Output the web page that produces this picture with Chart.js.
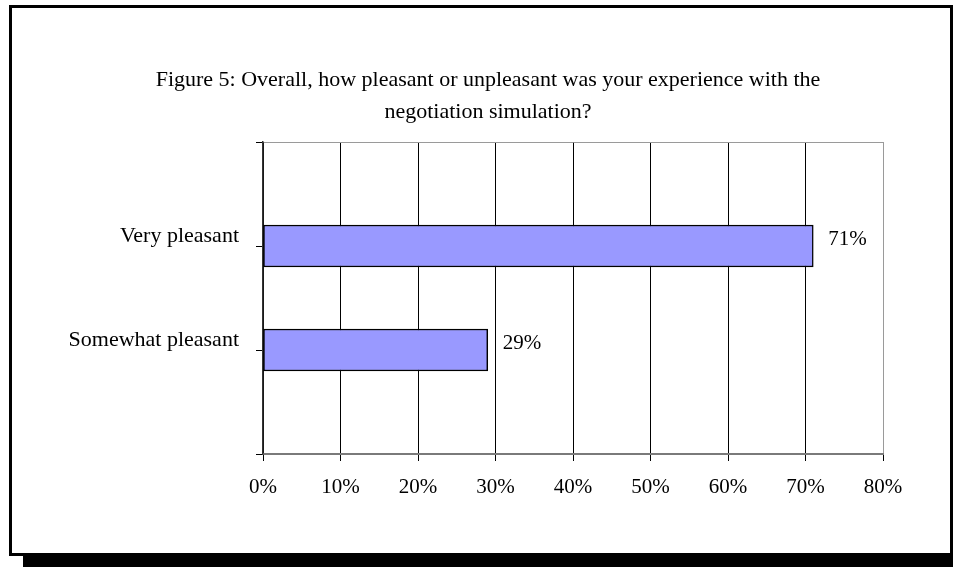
<!DOCTYPE html>
<html>
<head>
<meta charset="utf-8">
<script src="https://cdn.jsdelivr.net/npm/chart.js@4"></script>
<style>
  body { margin: 0; background: #fff; }
  #wrap { position: relative; width: 953px; height: 567px; overflow: hidden; }
  .frame { position: absolute; left: 9px; top: 5px; width: 944px; height: 551px; box-sizing: border-box; border: 3px solid #000; }
  .shadow { position: absolute; left: 23px; top: 553px; width: 930px; height: 14px; background: #000; }
  canvas { position: absolute; left: 0; top: 0; }
</style>
</head>
<body>
<div id="wrap">
  <div class="frame"></div>
  <div class="shadow"></div>
  <canvas id="chart" width="953" height="567"></canvas>
</div>
<script>
const titleLines = ['Figure 5: Overall, how pleasant or unpleasant was your experience with the', 'negotiation simulation?'];
const categories = ['Very pleasant', 'Somewhat pleasant'];
const shares = [71, 29];
const xTicks = [0, 10, 20, 30, 40, 50, 60, 70, 80];

const serif = 'Liberation Serif, Times New Roman, serif';

// blank slots above and below so the two categories sit on the inner ticks
const labels = [''].concat(categories, ['']);
const values = [null].concat(shares, [null]);

// two-line heading, centred a little right of the canvas middle
const heading = {
  id: 'heading',
  afterDraw(chart) {
    const c = chart.ctx;
    c.save();
    c.font = '22px ' + serif;
    c.fillStyle = '#000';
    c.textAlign = 'center';
    c.textBaseline = 'middle';
    titleLines.forEach((t, i) => c.fillText(t, 488, 80 + i * 32));
    c.restore();
  }
};

// percent labels to the right of each bar
const barLabels = {
  id: 'barLabels',
  afterDatasetsDraw(chart) {
    const c = chart.ctx;
    const meta = chart.getDatasetMeta(0);
    c.save();
    c.font = '21px ' + serif;
    c.fillStyle = '#000';
    c.textAlign = 'left';
    c.textBaseline = 'middle';
    meta.data.forEach((bar, i) => {
      if (values[i] == null) return;
      c.fillText(values[i] + '%', bar.x + 15, bar.y - 7);
    });
    c.restore();
  }
};

new Chart(document.getElementById('chart'), {
  type: 'bar',
  data: {
    labels: labels,
    datasets: [{
      data: values,
      backgroundColor: '#9999FF',
      borderColor: '#000',
      borderWidth: 1.5,
      borderSkipped: false,
      barThickness: 42
    }]
  },
  plugins: [barLabels, heading],
  options: {
    indexAxis: 'y',
    responsive: false,
    animation: false,
    layout: { padding: { left: 30, right: 70, top: 142, bottom: 0 } },
    plugins: {
      legend: { display: false },
      tooltip: { enabled: false },
      title: { display: false }
    },
    scales: {
      x: {
        min: 0,
        max: 80,
        afterFit: s => { s.height = 113; },
        afterBuildTicks: s => { s.ticks = xTicks.map(v => ({ value: v })); },
        ticks: {
          color: '#000',
          padding: 14,
          maxRotation: 0,
          font: { family: serif, size: 21 },
          callback: v => v + '%'
        },
        grid: {
          color: ctx => (ctx.tick && ctx.tick.value === 80) ? '#9a9a9a' : '#000',
          lineWidth: 1,
          tickLength: 7,
          tickColor: '#000'
        },
        border: { color: '#7a7a7a', width: 2 }
      },
      y: {
        offset: false,
        afterFit: s => { s.width = 233; },
        ticks: {
          color: '#000',
          padding: 17,
          labelOffset: -10,
          font: { family: serif, size: 22 }
        },
        grid: {
          offset: false,
          color: ctx => ctx.index === 0 ? '#9a9a9a' : 'rgba(0,0,0,0)',
          lineWidth: 1,
          tickLength: 7,
          tickColor: '#000'
        },
        border: { color: '#333', width: 1.5 }
      }
    }
  }
});
</script>
</body>
</html>
